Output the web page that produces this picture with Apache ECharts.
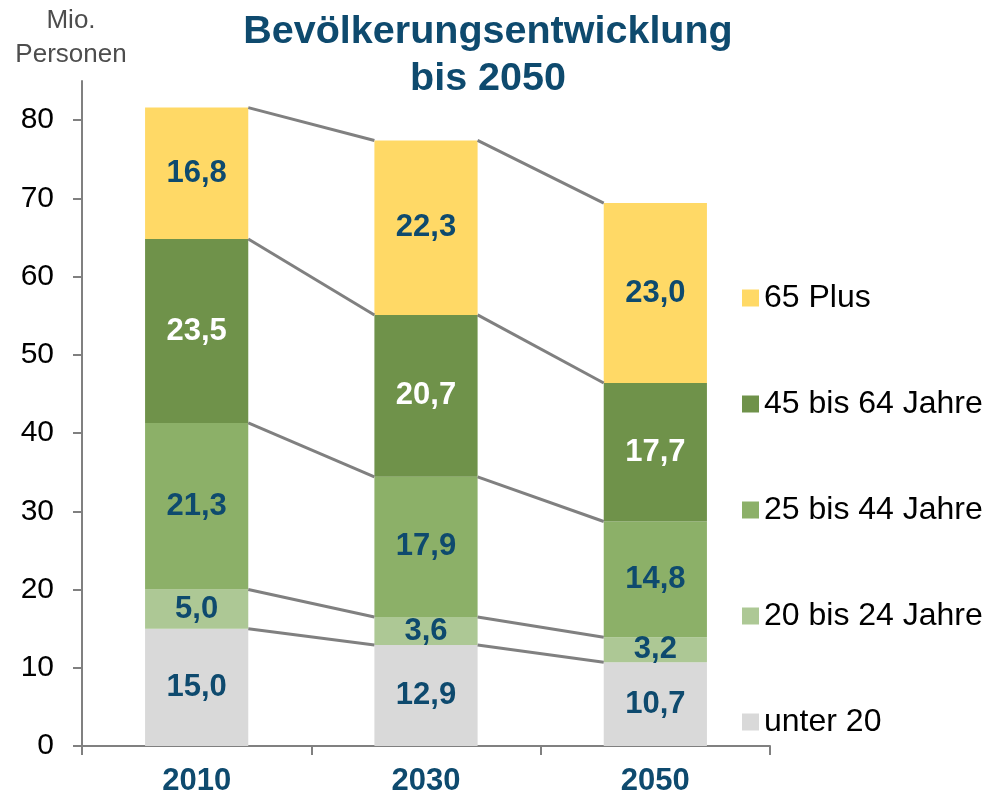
<!DOCTYPE html>
<html lang="de">
<head>
  <meta charset="UTF-8">
  <title>Bevölkerungsentwicklung bis 2050</title>
  <style>
    html, body { margin: 0; padding: 0; background: #fff; }
    #chart { width: 988px; height: 797px; }
  </style>
</head>
<body>
  <div id="chart"></div>
  <script src="https://cdn.jsdelivr.net/npm/echarts@6/dist/echarts.min.js"></script>
  <script>
    // data (Mio. Personen)
    const years = ['2010', '2030', '2050'];
    const groups = ['unter 20', '20 bis 24 Jahre', '25 bis 44 Jahre', '45 bis 64 Jahre', '65 Plus'];
    const unter20 = [15.0, 12.9, 10.7];
    const j20bis24 = [5.0, 3.6, 3.2];
    const j25bis44 = [21.3, 17.9, 14.8];
    const j45bis64 = [23.5, 20.7, 17.7];
    const plus65 = [16.8, 22.3, 23.0];
    const yTicks = [0, 10, 20, 30, 40, 50, 60, 70, 80];

    const values = [unter20, j20bis24, j25bis44, j45bis64, plus65];
    const colors = ['#D9D9D9', '#ADC895', '#8CB068', '#6F924A', '#FFD966'];
    const labelColors = ['#0E4A6E', '#0E4A6E', '#0E4A6E', '#FFFFFF', '#0E4A6E'];
    const BAR_FRAC = 0.45;

    // top of each stacked segment, used for the connecting lines
    const connData = [];
    const running = years.map(() => 0);
    values.forEach(function (arr) {
      arr.forEach(function (v, i) { running[i] += v; });
      for (let i = 0; i < years.length - 1; i++) {
        connData.push([i, running[i], running[i + 1]]);
      }
    });

    const fmt = v => v.toFixed(1).replace('.', ',');

    const barSeries = groups.map(function (name, s) {
      return {
        name: name,
        type: 'bar',
        stack: 'total',
        barWidth: (BAR_FRAC * 100) + '%',
        itemStyle: { color: colors[s] },
        label: {
          show: true,
          position: 'inside',
          formatter: p => fmt(p.value),
          fontFamily: 'Liberation Sans',
          fontSize: 31,
          fontWeight: 'bold',
          color: labelColors[s]
        },
        data: values[s]
      };
    });

    const connector = {
      type: 'custom',
      name: 'conn',
      silent: true,
      z: 3,
      encode: { x: 0, y: 1 },
      renderItem: function (params, api) {
        const i = api.value(0);
        const a = api.coord([i, api.value(1)]);
        const b = api.coord([i + 1, api.value(2)]);
        const half = api.size([1, 0])[0] * BAR_FRAC / 2;
        return {
          type: 'line',
          shape: { x1: a[0] + half, y1: a[1], x2: b[0] - half, y2: b[1] },
          style: { stroke: '#808080', lineWidth: 3 }
        };
      },
      data: connData
    };

    const chart = echarts.init(document.getElementById('chart'));
    chart.setOption({
      animation: false,
      textStyle: { fontFamily: 'Liberation Sans' },
      title: [
        {
          text: 'Bevölkerungsentwicklung\nbis 2050',
          left: 488,
          top: 9,
          padding: 0,
          textAlign: 'center',
          textStyle: {
            fontFamily: 'Liberation Sans',
            fontSize: 39.5,
            fontWeight: 'bold',
            lineHeight: 47,
            color: '#0E4A6E'
          }
        },
        {
          text: 'Mio.\nPersonen',
          left: 71,
          top: 4,
          padding: 0,
          textAlign: 'center',
          textStyle: {
            fontFamily: 'Liberation Sans',
            fontSize: 26,
            fontWeight: 'normal',
            lineHeight: 34,
            color: '#4D4D4D'
          }
        }
      ],
      legend: {
        orient: 'vertical',
        left: 742,
        top: 282,
        padding: 0,
        itemWidth: 17,
        itemHeight: 17,
        itemGap: 74,
        icon: 'rect',
        data: groups.slice().reverse(),
        textStyle: {
          fontFamily: 'Liberation Sans',
          fontSize: 32,
          lineHeight: 30,
          color: '#000'
        }
      },
      grid: { left: 82, right: 218, top: 81, bottom: 50 },
      xAxis: {
        type: 'category',
        data: years,
        axisLine: { lineStyle: { color: '#808080', width: 2 } },
        axisTick: { show: true, length: 9, lineStyle: { color: '#808080', width: 2 } },
        axisLabel: {
          margin: 20,
          fontFamily: 'Liberation Sans',
          fontSize: 31,
          fontWeight: 'bold',
          color: '#0E4A6E'
        }
      },
      yAxis: {
        type: 'value',
        min: 0,
        max: 85,
        interval: 10,
        splitLine: { show: false },
        axisLine: { show: true, lineStyle: { color: '#808080', width: 2 } },
        axisTick: { show: true, length: 9, customValues: yTicks, lineStyle: { color: '#808080', width: 2 } },
        axisLabel: {
          customValues: yTicks,
          margin: 28,
          fontFamily: 'Liberation Sans',
          fontSize: 30,
          color: '#000'
        }
      },
      series: barSeries.concat([connector])
    });
  </script>
</body>
</html>
